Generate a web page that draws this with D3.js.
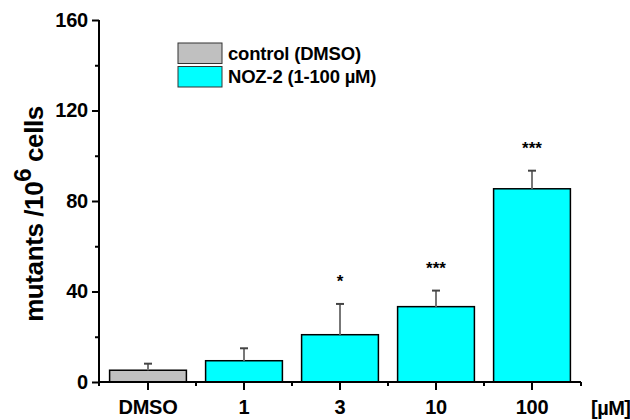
<!DOCTYPE html>
<html>
<head>
<meta charset="utf-8">
<script src="https://cdn.jsdelivr.net/npm/d3@7/dist/d3.min.js"></script>
<style>
  body { margin: 0; background: #fff; }
  text { font-family: "Liberation Sans", Arial, sans-serif; font-weight: bold; }
</style>
</head>
<body>
<div id="chart"></div>
<script>
// data
var categories = ["DMSO", "1", "3", "10", "100"];
var means = [5.2, 9.4, 20.9, 33.3, 85.4];
var errors = [2.9, 5.5, 13.6, 7.1, 8.0];
var groups = ["control", "noz", "noz", "noz", "noz"];
var significance = ["", "", "*", "***", "***"];
var yTicks = [0, 40, 80, 120, 160];
var yMinorTicks = [20, 60, 100, 140];
var legendKeys = ["control", "noz"];
var legendLabels = ["control (DMSO)", "NOZ-2 (1-100 µM)"];

var colors = { control: "#c0c0c0", noz: "#00ffff" };

function drawChart(selector) {
    var width = 630, height = 420;
    var x0 = 99, x1 = 581, yBase = 382, yTop = 20;

    d3.select(selector).html(null);

    var svg = d3.select(selector)
        .append("svg")
        .attr("width", width)
        .attr("height", height);

    var data = categories.map(function(c, i) {
        return { cat: c, mean: means[i], err: errors[i], group: groups[i], sig: significance[i] };
    });

    var x = d3.scaleBand()
        .domain(categories)
        .range([x0 + 1, x1 - 1])
        .paddingInner(0.2)
        .paddingOuter(0.1);

    var y = d3.scaleLinear()
        .domain([0, 160])
        .range([yBase, yTop]);

    // bars
    svg.selectAll(".bar")
        .data(data).enter().append("rect")
        .attr("class", "bar")
        .attr("x", function(d) { return x(d.cat); })
        .attr("width", x.bandwidth())
        .attr("y", function(d) { return y(d.mean); })
        .attr("height", function(d) { return y(0) - y(d.mean); })
        .attr("fill", function(d) { return colors[d.group]; })
        .attr("stroke", "#000")
        .attr("stroke-width", 1.5);

    // error bars (upper only)
    var eb = svg.selectAll(".err")
        .data(data).enter().append("g")
        .attr("class", "err")
        .attr("transform", function(d) { return "translate(" + (x(d.cat) + x.bandwidth() / 2) + ",0)"; });
    eb.append("line")
        .attr("x1", 0).attr("x2", 0)
        .attr("y1", function(d) { return y(d.mean); })
        .attr("y2", function(d) { return y(d.mean + d.err); })
        .attr("stroke", "#777")
        .attr("stroke-width", 2);
    eb.append("line")
        .attr("x1", -4).attr("x2", 4)
        .attr("y1", function(d) { return y(d.mean + d.err); })
        .attr("y2", function(d) { return y(d.mean + d.err); })
        .attr("stroke", "#444")
        .attr("stroke-width", 2);

    // significance stars
    svg.selectAll(".sig")
        .data(data).enter().append("text")
        .attr("class", "sig")
        .attr("x", function(d) { return x(d.cat) + x.bandwidth() / 2; })
        .attr("y", function(d) { return y(d.mean + d.err) - 17; })
        .attr("text-anchor", "middle")
        .style("font-size", "17px")
        .text(function(d) { return d.sig; });

    // y axis
    var yAxis = d3.axisLeft(y)
        .tickValues(yTicks)
        .tickSize(7)
        .tickSizeOuter(0)
        .tickPadding(4);
    var gy = svg.append("g")
        .attr("transform", "translate(" + x0 + ",0)")
        .call(yAxis);
    gy.select(".domain").attr("stroke-width", 2).attr("d", "M0," + (yBase + 4) + "V" + yTop);
    gy.selectAll(".tick line").attr("stroke-width", 2);
    gy.selectAll(".tick text")
        .style("font-size", "20px")
        .style("letter-spacing", "-0.2px")
        .attr("fill", "#000");

    var gyMinor = svg.append("g")
        .attr("transform", "translate(" + x0 + ",0)")
        .call(d3.axisLeft(y).tickValues(yMinorTicks).tickSize(4).tickSizeOuter(0).tickFormat(""));
    gyMinor.select(".domain").remove();
    gyMinor.selectAll(".tick line").attr("stroke-width", 2);

    // x axis
    var gx = svg.append("g")
        .attr("transform", "translate(0," + yBase + ")")
        .call(d3.axisBottom(x).tickSize(8).tickSizeOuter(0).tickPadding(10));
    gx.select(".domain").attr("stroke-width", 2).attr("d", "M" + x0 + ",0H" + x1);
    gx.selectAll(".tick line").attr("stroke-width", 2);
    gx.selectAll(".tick text")
        .style("font-size", "20px")
        .style("letter-spacing", "-0.3px")
        .attr("fill", "#000");

    // minor x ticks at group boundaries
    var bounds = categories.slice(1).map(function(c) { return x(c) - x.step() * x.paddingInner() / 2; });
    bounds.push(x1);
    gx.selectAll(".minor")
        .data(bounds).enter().append("line")
        .attr("class", "minor")
        .attr("x1", function(d) { return d; }).attr("x2", function(d) { return d; })
        .attr("y1", 0).attr("y2", 4)
        .attr("stroke", "#000")
        .attr("stroke-width", 2);

    svg.append("text")
        .attr("x", 591)
        .attr("y", 415)
        .style("font-size", "20px")
        .style("letter-spacing", "-0.5px")
        .text("[µM]");

    // y axis title
    var yt = svg.append("text")
        .attr("transform", "translate(43,214) rotate(-90)")
        .attr("text-anchor", "middle")
        .style("font-size", "26px")
        .style("letter-spacing", "-0.4px");
    yt.append("tspan").text("mutants /10");
    yt.append("tspan").attr("dy", -12).style("font-size", "24px").text("6");
    yt.append("tspan").attr("dy", 12).text(" cells");

    // legend
    var leg = svg.selectAll(".legend")
        .data(legendKeys).enter().append("g")
        .attr("class", "legend")
        .attr("transform", function(d, i) { return "translate(178," + (43 + i * 23.5) + ")"; });
    leg.append("rect")
        .attr("width", 44)
        .attr("height", 20.5)
        .attr("fill", function(d) { return colors[d]; })
        .attr("stroke", "#333")
        .attr("stroke-width", 1);
    leg.append("text")
        .attr("x", 50)
        .attr("y", 16.5)
        .style("font-size", "18.5px")
        .style("letter-spacing", "-0.2px")
        .text(function(d, i) { return legendLabels[i]; });
}

drawChart("#chart");
</script>
</body>
</html>
